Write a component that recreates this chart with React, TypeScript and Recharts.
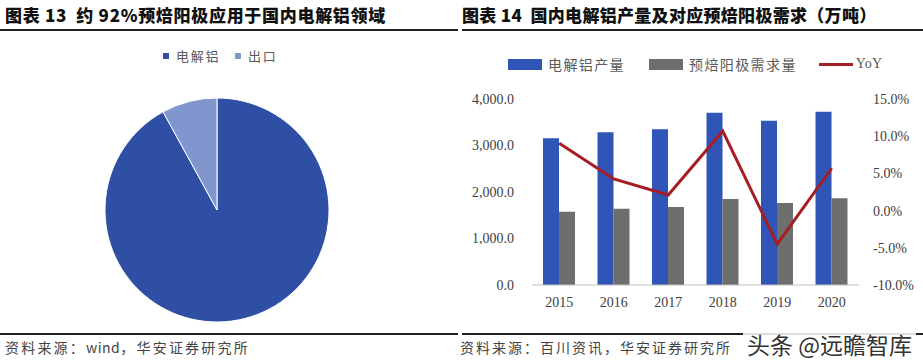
import { PieChart, Pie, Cell, ComposedChart, Bar, Line, XAxis, YAxis } from "recharts";

// left panel: share of prebaked anode usage
const pieNames = ["电解铝", "出口"];
const pieShares = [92, 8];
const pieColors = ["#2E4FA3", "#8195CF"];

// right panel: output (万吨) and YoY (%)
const years = ["2015", "2016", "2017", "2018", "2019", "2020"];
const aluminium = [3155, 3284, 3348, 3706, 3534, 3727];
const anodeDemand = [1576, 1641, 1677, 1849, 1763, 1864];
const yoy = [9.05, 4.25, 2.1, 10.7, -4.5, 5.7];
const leftTicks = [0, 1000, 2000, 3000, 4000];
const rightTicks = [-10, -5, 0, 5, 10, 15];

const BLUE = "#2F55B6";
const GRAY = "#6E6E6E";
const RED = "#A51D25";

const pieData = pieNames.map((name, i) => ({ name, value: pieShares[i] }));
const barData = years.map((year, i) => ({
	year,
	aluminium: aluminium[i],
	anode: anodeDemand[i],
	yoy: yoy[i],
}));

const cjk = '"Noto Sans CJK SC", "Noto Sans", sans-serif';
const serif = '"Liberation Serif", "DejaVu Serif", serif';
const tickStyle = { fontFamily: serif, fontSize: 14, fill: "#404040" };

const abs = (left: number, top: number) => ({ position: "absolute" as const, left, top });

export default function App() {
	return (
		<div style={{ position: "absolute", left: 0, top: 0, width: 923, height: 361, background: "#fff", overflow: "hidden", fontFamily: cjk }}>
			{/* titles */}
			<div style={{ ...abs(5, 4), fontSize: 17, fontWeight: 900, color: "#111", whiteSpace: "nowrap", lineHeight: "22px", letterSpacing: 0.7 }}>
				图表 13&nbsp;&nbsp;约 92%预焙阳极应用于国内电解铝领域
			</div>
			<div style={{ ...abs(462, 4), fontSize: 17, fontWeight: 900, color: "#111", whiteSpace: "nowrap", lineHeight: "22px", letterSpacing: 0.3 }}>
				图表 14&nbsp;&nbsp;国内电解铝产量及对应预焙阳极需求（万吨）
			</div>
			<div style={{ ...abs(0, 29), width: 458, height: 1.5, background: "#222" }} />
			<div style={{ ...abs(462, 29), width: 461, height: 1.5, background: "#222" }} />
			<div style={{ ...abs(0, 333), width: 458, height: 1.5, background: "#222" }} />
			<div style={{ ...abs(462, 333), width: 461, height: 1.5, background: "#222" }} />

			{/* pie legend */}
			{pieNames.map((n, i) => (
				<div key={n} style={{ ...abs(i === 0 ? 163 : 235, 47), display: "flex", alignItems: "center", whiteSpace: "nowrap" }}>
					<span style={{ width: 6, height: 6, background: pieColors[i], display: "inline-block", marginRight: 7 }} />
					<span style={{ fontSize: 13, letterSpacing: 1.7, color: "#595959", lineHeight: "18px" }}>{n}</span>
				</div>
			))}

			<div style={abs(0, 0)}>
				<PieChart width={460} height={361}>
					<Pie
						data={pieData}
						dataKey="value"
						cx={212}
						cy={205}
						outerRadius={112}
						startAngle={90}
						endAngle={-270}
						stroke="#fff"
						strokeWidth={1}
						isAnimationActive={false}
					>
						{pieData.map((d, i) => (
							<Cell key={d.name} fill={pieColors[i]} />
						))}
					</Pie>
				</PieChart>
			</div>

			{/* bar/line legend */}
			<div style={{ ...abs(508, 55), display: "flex", alignItems: "center", whiteSpace: "nowrap", fontSize: 14, letterSpacing: 1.4, color: "#595959", lineHeight: "18px" }}>
				<span style={{ width: 34, height: 11, background: BLUE, display: "inline-block", marginRight: 6 }} />
				<span style={{ marginRight: 24 }}>电解铝产量</span>
				<span style={{ width: 34, height: 11, background: GRAY, display: "inline-block", marginRight: 6 }} />
				<span style={{ marginRight: 22 }}>预焙阳极需求量</span>
				<span style={{ width: 34, height: 3, background: RED, display: "inline-block", marginRight: 3 }} />
				<span style={{ fontFamily: serif, letterSpacing: 0.3 }}>YoY</span>
			</div>

			<div style={abs(460, 0)}>
				<ComposedChart width={463} height={361} data={barData} margin={{ top: 99, right: 0, bottom: 46, left: 0 }} barGap={0}>
					<XAxis
						dataKey="year"
						height={30}
						tickLine={false}
						axisLine={{ stroke: "#BFBFBF" }}
						tick={tickStyle}
						tickMargin={6}
					/>
					<YAxis
						yAxisId="left"
						width={72}
						domain={[0, 4000]}
						ticks={leftTicks}
						axisLine={false}
						tickLine={false}
						tickMargin={12}
						tick={tickStyle}
						tickFormatter={(v: number) => v.toLocaleString("en-US", { minimumFractionDigits: 1, maximumFractionDigits: 1 })}
					/>
					<YAxis
						yAxisId="right"
						orientation="right"
						width={64}
						domain={[-10, 15]}
						ticks={rightTicks}
						axisLine={false}
						tickLine={false}
						tickMargin={8}
						tick={tickStyle}
						tickFormatter={(v: number) => `${v.toFixed(1)}%`}
					/>
					<Bar yAxisId="left" dataKey="aluminium" fill={BLUE} barSize={16} isAnimationActive={false} />
					<Bar yAxisId="left" dataKey="anode" fill={GRAY} barSize={16} isAnimationActive={false} />
					<Line yAxisId="right" dataKey="yoy" stroke={RED} strokeWidth={3} dot={false} type="linear" isAnimationActive={false} />
				</ComposedChart>
			</div>

			{/* sources */}
			<div style={{ ...abs(5, 338), fontSize: 14, letterSpacing: 2.2, color: "#444", whiteSpace: "nowrap", lineHeight: "18px" }}>
				资料来源：<span style={{ letterSpacing: 0.5 }}>wind</span>，华安证券研究所
			</div>
			<div style={{ ...abs(460, 338), fontSize: 14, letterSpacing: 2.0, color: "#444", whiteSpace: "nowrap", lineHeight: "18px" }}>
				资料来源：百川资讯，华安证券研究所
			</div>

			{/* watermark */}
			<div
				style={{
					...abs(743, 330),
					fontSize: 23,
					color: "#333",
					whiteSpace: "nowrap",
					lineHeight: "28px",
					background: "rgba(255,255,255,0.85)",
					padding: "0 4px",
				}}
			>
				头条 @远瞻智库
			</div>
		</div>
	);
}
